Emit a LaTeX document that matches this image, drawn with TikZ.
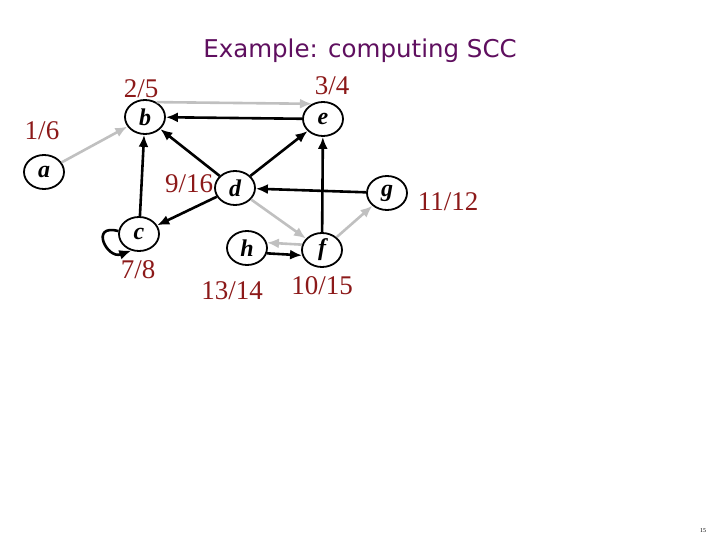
\documentclass[tikz,border=0pt]{standalone}
\usepackage{fontspec}
\setmainfont{Liberation Serif}
\newfontfamily\titlefont{DejaVu Sans}
\usetikzlibrary{shapes.geometric,arrows.meta}
\definecolor{stampred}{RGB}{140,25,25}
\definecolor{titlepurple}{RGB}{95,15,95}
\definecolor{treegray}{RGB}{192,192,192}
\begin{document}
\begin{tikzpicture}[
    x=1pt, y=-1pt,
    vertex/.style={ellipse, draw, line width=1.8pt, minimum width=40pt, minimum height=34pt, inner sep=0pt, font=\fontsize{24}{24}\selectfont\bfseries\itshape},
    stamp/.style={text=stampred, font=\fontsize{27}{27}\selectfont},
    arc/.style={line width=2.6pt, -{Latex[length=12pt,width=10pt]}},
    treearc/.style={arc, color=treegray}
  ]
    \useasboundingbox (0,0) rectangle (720,540);
    \node[text=titlepurple, font=\titlefont\fontsize{24.5}{24.5}\selectfont] (title) at (360,51) {Example: computing SCC};

    \node[vertex] (a) at (44,172) {a};
    \node[vertex] (b) at (145,117) {b};
    \node[vertex] (e) at (323,119) {e};
    \node[vertex] (d) at (235,188) {d};
    \node[vertex] (c) at (139,234) {c};
    \node[vertex] (h) at (247,248) {h};
    \node[vertex] (f) at (322,250) {f};
    \node[vertex] (g) at (387,193) {g};

    \node[stamp] (ta) at (42,131) {1/6};
    \node[stamp] (tb) at (141,89) {2/5};
    \node[stamp] (te) at (332,86) {3/4};
    \node[stamp] (td) at (189,184) {9/16};
    \node[stamp] (tc) at (138,270) {7/8};
    \node[stamp] (th) at (232,291) {13/14};
    \node[stamp] (tf) at (322,286) {10/15};
    \node[stamp] (tg) at (448,202) {11/12};

    \draw[treearc] (a) -- (b);
    \draw[treearc] (b.52) -- (e.126);
    \draw[arc] (e) -- (b);
    \draw[arc] (d) -- (b);
    \draw[arc] (d) -- (e);
    \draw[arc] (c) -- (b);
    \draw[arc] (d) -- (c);
    \draw[arc] (c.172) .. controls +(165:30pt) and +(200:26pt) .. (c.245);
    \draw[arc] (g) -- (d);
    \draw[arc] (f) -- (e);
    \draw[treearc] (d) -- (f);
    \draw[treearc] (f.165) -- (h.15);
    \draw[arc] (h.-15) -- (f.195);
    \draw[treearc] (f) -- (g);

    \node[font=\fontsize{6}{6}\selectfont] (page) at (703,531) {15};
  \end{tikzpicture}
\end{document}
